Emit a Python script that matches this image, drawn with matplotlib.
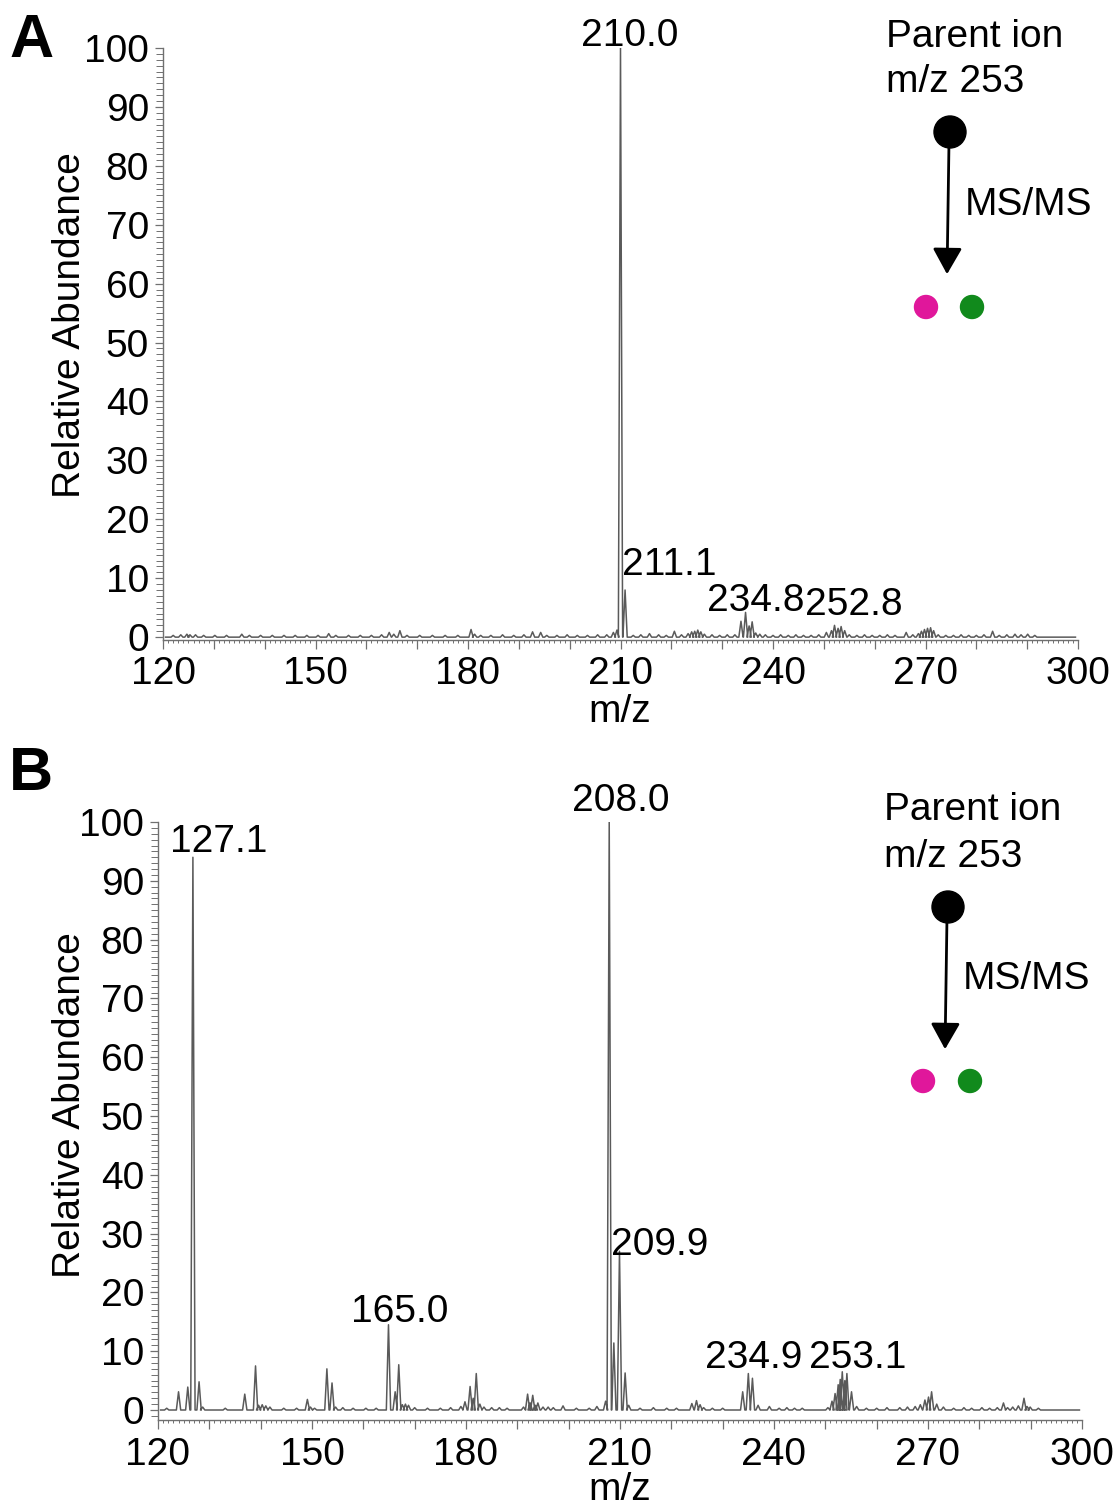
import matplotlib
matplotlib.use("Agg")
import matplotlib.pyplot as plt
from matplotlib.ticker import MultipleLocator, FuncFormatter
from matplotlib.patches import Circle, FancyArrowPatch

plt.rcParams['font.family'] = ['Liberation Sans', 'DejaVu Sans']

W, H = 1117, 1509

# ---------------- data ----------------
x_ticks = [120, 150, 180, 210, 240, 270, 300]
y_ticks = [0, 10, 20, 30, 40, 50, 60, 70, 80, 90, 100]

# Panel A: centroid peak list (m/z, relative abundance)
a_mz = [122.0, 123.5, 124.7, 125.3, 126.4, 128.0, 130.2, 132.5, 135.5, 137.0,
        139.2, 141.5, 143.8, 146.0, 148.3, 150.5, 152.6, 154.0, 156.5, 158.8,
        161.0, 163.0, 164.5, 165.4, 166.6, 168.0, 170.5, 173.0, 175.5, 178.0,
        180.6, 181.3, 182.5, 184.5, 186.8, 189.0, 191.0, 192.7, 194.3, 195.5,
        197.5, 199.5, 201.5, 203.5, 205.5, 207.3, 208.6, 209.3, 210.0, 210.9,
        212.5, 214.0, 215.7, 217.5, 219.0, 220.6, 222.0, 223.3, 224.0, 224.6,
        225.2, 225.8, 226.5, 228.0, 229.5, 231.0, 232.5, 233.7, 234.6, 235.3,
        235.9, 236.6, 237.4, 238.5, 240.0, 241.5, 243.0, 244.5, 246.0, 247.5,
        249.0, 250.5, 251.5, 252.1, 252.8, 253.4, 254.1, 255.0, 256.5, 258.0,
        259.5, 261.0, 262.5, 264.0, 266.2, 267.5, 268.6, 269.2, 269.8, 270.4,
        271.0, 271.6, 272.5, 274.0, 275.5, 277.0, 278.5, 280.0, 281.5, 283.2,
        284.5, 286.0, 287.6, 288.8, 290.1, 291.5]
a_int = [0.3, 0.4, 0.5, 0.4, 0.4, 0.3, 0.3, 0.3, 0.5, 0.3,
         0.3, 0.3, 0.3, 0.3, 0.3, 0.3, 0.6, 0.3, 0.3, 0.3,
         0.3, 0.4, 0.8, 0.5, 1.1, 0.3, 0.3, 0.3, 0.3, 0.3,
         1.3, 0.5, 0.3, 0.3, 0.4, 0.3, 0.4, 0.9, 0.8, 0.3,
         0.3, 0.4, 0.3, 0.3, 0.4, 0.4, 0.8, 1.2, 100.0, 8.0,
         0.3, 0.4, 0.6, 0.4, 0.3, 1.0, 0.4, 0.6, 0.9, 1.0,
         1.2, 0.9, 0.5, 0.4, 0.3, 0.4, 0.4, 2.7, 4.2, 1.9,
         2.6, 0.7, 0.5, 0.4, 0.3, 0.4, 0.3, 0.4, 0.3, 0.3,
         0.4, 0.8, 1.1, 2.0, 1.5, 1.8, 1.1, 0.4, 0.3, 0.4,
         0.3, 0.3, 0.4, 0.3, 0.8, 0.4, 0.6, 1.0, 1.3, 1.5,
         1.6, 1.1, 0.4, 0.3, 0.3, 0.4, 0.3, 0.3, 0.4, 1.0,
         0.3, 0.4, 0.5, 0.4, 0.5, 0.3]
a_labels = ["210.0", "211.1", "234.8", "252.8"]

# Panel B: centroid peak list (m/z, relative abundance)
b_mz = [121.7, 124.0, 125.8, 126.8, 128.0, 128.7, 133.1, 136.9, 139.0, 139.6,
        140.3, 141.0, 141.8, 144.5, 147.0, 149.1, 149.7, 150.5, 152.9, 153.9,
        154.6, 156.0, 158.0, 160.5, 162.5, 164.9, 166.2, 166.9, 167.6, 168.2,
        168.8, 170.0, 172.5, 175.0, 177.0, 179.0, 179.8, 180.8, 181.4, 182.0,
        182.7, 183.5, 185.0, 186.5, 188.0, 191.2, 192.0, 192.5, 193.0, 193.5,
        194.0, 195.0, 196.0, 197.0, 198.9, 201.5, 204.0, 205.5, 207.2, 207.9,
        208.8, 209.9, 211.0, 211.7, 213.9, 216.5, 219.1, 221.0, 224.0, 224.9,
        225.6, 226.3, 228.0, 230.0, 233.9, 235.0, 235.8, 236.9, 239.1, 241.0,
        242.5, 244.0, 245.5, 250.5, 251.3, 251.9, 252.5, 252.9, 253.3, 253.8,
        254.2, 255.1, 256.1, 258.0, 260.0, 262.0, 264.5, 266.0, 267.5, 268.5,
        269.4, 270.1, 270.7, 271.7, 273.0, 275.0, 277.0, 278.5, 280.5, 282.0,
        283.5, 284.7, 285.5, 286.5, 287.6, 288.7, 289.3, 289.9, 291.5]
b_int = [0.3, 3.1, 3.9, 94.0, 4.8, 0.5, 0.3, 2.7, 7.5, 0.8,
         0.9, 0.7, 0.5, 0.3, 0.3, 1.8, 0.5, 0.3, 7.0, 4.6,
         0.5, 0.4, 0.3, 0.3, 0.3, 14.5, 3.1, 7.7, 0.9, 1.0,
         0.8, 0.4, 0.3, 0.3, 0.4, 0.6, 1.4, 4.0, 2.0, 6.2,
         1.0, 0.5, 0.4, 0.4, 0.3, 0.5, 2.7, 1.2, 2.5, 0.8,
         1.2, 0.5, 0.5, 0.4, 0.7, 0.3, 0.3, 0.6, 1.5, 100.0,
         11.4, 27.0, 6.3, 0.8, 0.3, 0.4, 0.3, 0.3, 1.1, 1.6,
         0.9, 0.4, 0.3, 0.3, 3.1, 6.2, 5.4, 0.8, 0.6, 0.3,
         0.4, 0.3, 0.3, 0.4, 1.5, 2.8, 4.3, 5.2, 6.5, 5.0,
         6.2, 3.1, 0.6, 0.3, 0.3, 0.4, 0.4, 0.5, 0.6, 0.9,
         1.7, 2.2, 3.1, 1.0, 0.5, 0.3, 0.4, 0.3, 0.4, 0.3,
         0.4, 1.2, 0.4, 0.5, 0.7, 2.0, 0.6, 0.5, 0.3]
b_labels = ["127.1", "208.0", "209.9", "165.0", "234.9", "253.1"]

mz_range = [120, 300]
parent_text = ["Parent ion", "m/z 253"]
msms_text = "MS/MS"

# ---------------- styling / layout ----------------
FS = 28
LINE_C = '#5a5a5a'
AX_C = '#707070'
MAGENTA = '#e0179b'
GREEN = '#118a1c'
PEAK_HW = 0.42   # peak half width in m/z (drawing style)


def profile(mz, inten, lo, hi):
    xs, ys = [lo + 0.5], [0.0]
    for m, h in sorted(zip(mz, inten)):
        xs += [m - PEAK_HW, m, m + PEAK_HW]
        ys += [0.0, h, 0.0]
    xs.append(hi - 0.5)
    ys.append(0.0)
    return xs, ys


def px_axes(fig, left, right, top, bottom):
    return fig.add_axes([left / W, 1 - bottom / H, (right - left) / W, (bottom - top) / H])


def style_axes(ax, ybottom):
    ax.set_xlim(mz_range)
    ax.set_ylim(ybottom, 100)
    for s in ['top', 'right']:
        ax.spines[s].set_visible(False)
    for s in ['left', 'bottom']:
        ax.spines[s].set_color(AX_C)
        ax.spines[s].set_linewidth(1.0)
    ax.xaxis.set_major_locator(MultipleLocator(10))
    ax.xaxis.set_minor_locator(MultipleLocator(1))
    ax.xaxis.set_major_formatter(FuncFormatter(lambda v, p: f"{int(round(v))}" if int(round(v)) in x_ticks else ""))
    ax.set_yticks(y_ticks)
    ax.yaxis.set_minor_locator(MultipleLocator(1))
    ax.tick_params(axis='x', which='major', length=6.5, width=0.9, color=AX_C, labelsize=FS, pad=5.5)
    ax.tick_params(axis='x', which='minor', length=2.5, width=0.7, color=AX_C)
    ax.tick_params(axis='y', which='major', length=6, width=0.9, color=AX_C, labelsize=FS, pad=4)
    ax.tick_params(axis='y', which='minor', length=5, width=0.7, color=AX_C)


def scheme(fig, x_text, y_base1, y_base2, cx, cy, tip_y, msms_x, msms_base, dot_y, mx, gx):
    fig.text(x_text / W, 1 - y_base1 / H, parent_text[0], fontsize=FS, va='baseline', ha='left')
    fig.text(x_text / W, 1 - y_base2 / H, parent_text[1], fontsize=FS, va='baseline', ha='left')
    fig.text(msms_x / W, 1 - msms_base / H, msms_text, fontsize=FS, va='baseline', ha='left')
    ov = fig.add_axes([0, 0, 1, 1], facecolor='none')
    ov.set_xlim(0, W)
    ov.set_ylim(H, 0)
    ov.axis('off')
    ov.add_patch(Circle((cx, cy), 16, color='black'))
    ov.add_patch(FancyArrowPatch((cx - 1, cy + 10), (cx - 3, tip_y), arrowstyle='-|>,head_length=16,head_width=9',
                                 mutation_scale=1, lw=2, color='black'))
    ov.add_patch(Circle((mx, dot_y), 11.5, color=MAGENTA))
    ov.add_patch(Circle((gx, dot_y), 11.5, color=GREEN))


fig = plt.figure(figsize=(W / 100, H / 100), dpi=100)

# ---- Panel A ----
axA = px_axes(fig, 163, 1078, 48, 639.5)
style_axes(axA, -0.4)
xs, ys = profile(a_mz, a_int, *mz_range)
axA.plot(xs, ys, color=LINE_C, lw=1.1)
a_lab_pos = [(211.8, 100.4), (219.6, 10.5), (236.7, 4.4), (255.8, 3.7)]
for t, (x, y) in zip(a_labels, a_lab_pos):
    axA.text(x, y, t, fontsize=FS, ha='center', va='baseline', clip_on=False)
fig.text(9 / W, 1 - 57 / H, "A", fontsize=44, fontweight='bold', va='baseline', ha='left')
fig.text(70 / W, 1 - 325 / H, "Relative Abundance", fontsize=FS, rotation=90, va='center', ha='center')
fig.text(620 / W, 1 - 712 / H, "m/z", fontsize=FS, va='center', ha='center')
scheme(fig, 886, 47, 92, 950, 132, 277, 965, 215, 307, 926, 972)

# ---- Panel B ----
axB = px_axes(fig, 158, 1082, 822, 1420)
style_axes(axB, -1.7)
xs, ys = profile(b_mz, b_int, *mz_range)
axB.plot(xs, ys, color=LINE_C, lw=1.1)
b_lab_pos = [(131.9, 94.9), (210.2, 101.9), (217.8, 26.4), (167.0, 15.0), (236.1, 7.1), (256.3, 7.1)]
for t, (x, y) in zip(b_labels, b_lab_pos):
    axB.text(x, y, t, fontsize=FS, ha='center', va='baseline', clip_on=False)
fig.text(9 / W, 1 - 790 / H, "B", fontsize=44, fontweight='bold', va='baseline', ha='left')
fig.text(70 / W, 1 - 1105 / H, "Relative Abundance", fontsize=FS, rotation=90, va='center', ha='center')
fig.text(620 / W, 1 - 1490 / H, "m/z", fontsize=FS, va='center', ha='center')
scheme(fig, 884, 820, 867, 948, 907, 1052, 963, 989, 1081, 923, 970)

fig.savefig("out.png", dpi=100)
